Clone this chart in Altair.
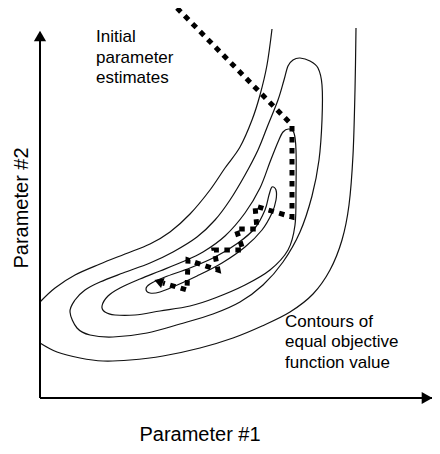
import altair as alt
import pandas as pd

# ---- contour lines (parameter-space units) ----
OUTER_UPPER_X = [0, 15, 35, 60, 85, 110, 130, 150, 170, 185, 200, 212, 220, 227, 232]
OUTER_UPPER_Y = [96, 110, 123, 134, 144, 154, 166, 184, 208, 230, 251, 278, 303, 333, 369]

OUTER_LOWER_X = [0, 17, 40, 63, 90, 123, 160, 193, 222, 250, 273, 290, 302, 309, 313, 315, 316]
OUTER_LOWER_Y = [55, 46, 40, 37, 38, 42, 50, 60, 72, 86, 104, 128, 158, 193, 243, 308, 370]

C2_X = [30, 35, 45, 60, 83, 110, 133, 157, 175, 190, 205, 218, 228, 238, 244, 248, 253, 260,
        270, 278, 282, 282, 279, 272, 260, 243, 223, 200, 173, 140, 107, 73, 50, 37]
C2_Y = [86, 98, 108, 116, 125, 135, 146, 161, 178, 198, 223, 248, 273, 298, 318, 332, 338, 340,
        337, 330, 313, 278, 238, 202, 166, 136, 113, 96, 84, 74, 65, 61, 63, 70]

C3_X = [62, 68, 80, 100, 120, 142, 163, 185, 205, 220, 230, 238, 243, 249, 254, 256, 256, 255,
        248, 230, 205, 175, 150, 120, 95, 75, 65]
C3_Y = [92, 102, 110, 119, 127, 136, 146, 162, 185, 210, 236, 256, 266, 269, 265, 248, 208, 173,
        148, 128, 113, 100, 92, 87, 83, 83, 86]

C4_X = [106, 110, 125, 150, 175, 198, 215, 225, 229, 232, 236, 236, 232, 222, 205, 182, 157, 135, 120, 110]
C4_Y = [109, 114, 121, 130, 141, 155, 170, 188, 203, 211, 208, 198, 185, 168, 151, 135, 122, 112, 106, 105]

# ---- search path ----
PATH_X = [137, 252, 252, 215, 217, 196, 203, 174, 178, 148, 147, 123]
PATH_Y = [390, 273, 181, 192, 169, 169, 148, 148, 128, 138, 108, 115]
ARROW_X = [120]
ARROW_Y = [116]

# ---- axes ----
AXIS_END_X = 392
AXIS_END_Y = 362
XARROW_X = 387

# ---- labels ----
NOTE_TEXT = ["Initial", "parameter", "estimates",
             "Contours of", "equal objective", "function value"]
NOTE_X = [56, 56, 56, 245, 245, 245]
NOTE_Y = [356, 335, 315, 71, 51, 30]

X_TITLE = "Parameter #1"
Y_TITLE = "Parameter #2"


def curve_df(name, xs, ys):
    return pd.DataFrame({"curve": name, "i": range(len(xs)), "x": xs, "y": ys})


open_df = pd.concat([curve_df("outer_upper", OUTER_UPPER_X, OUTER_UPPER_Y),
                     curve_df("outer_lower", OUTER_LOWER_X, OUTER_LOWER_Y)])
closed_df = pd.concat([curve_df("c2", C2_X, C2_Y),
                       curve_df("c3", C3_X, C3_Y),
                       curve_df("c4", C4_X, C4_Y)])
path_df = curve_df("path", PATH_X, PATH_Y)
arrow_df = pd.DataFrame({"x": ARROW_X, "y": ARROW_Y})
axes_df = pd.DataFrame({"x": [0, 0], "y": [0, 0], "x2": [0, AXIS_END_X], "y2": [AXIS_END_Y, 0]})
yarrow_df = pd.DataFrame({"x": [0], "y": [AXIS_END_Y]})
xarrow_df = pd.DataFrame({"x": [XARROW_X], "y": [0]})
notes_df = pd.DataFrame({"text": NOTE_TEXT, "x": NOTE_X, "y": NOTE_Y})
xt_df = pd.DataFrame({"text": [X_TITLE], "x": [160], "y": [-43]})
yt_df = pd.DataFrame({"text": [Y_TITLE], "x": [-12], "y": [190]})

xs = alt.Scale(domain=[-32, 392])
ys = alt.Scale(domain=[-48, 390])
X = alt.X("x:Q", scale=xs, axis=None)
Y = alt.Y("y:Q", scale=ys, axis=None)

contours_open = alt.Chart(open_df).mark_line(
    interpolate="cardinal", color="#111111", strokeWidth=1.2
).encode(x=X, y=Y, detail="curve:N", order="i:Q")

contours_closed = alt.Chart(closed_df).mark_line(
    interpolate="cardinal-closed", color="#111111", strokeWidth=1.2
).encode(x=X, y=Y, detail="curve:N", order="i:Q")

path = alt.Chart(path_df).mark_line(
    color="black", strokeWidth=5, strokeDash=[5.5, 5.5], strokeCap="butt"
).encode(x=X, y=Y, order="i:Q")

arrow = alt.Chart(arrow_df).mark_point(
    shape="triangle", filled=True, size=110, angle=290, color="black", opacity=1
).encode(x=X, y=Y)

axes = alt.Chart(axes_df).mark_rule(color="black", strokeWidth=2).encode(
    x=X, y=Y, x2="x2:Q", y2="y2:Q")

yarrow = alt.Chart(yarrow_df).mark_point(
    shape="triangle-up", filled=True, size=150, color="black", opacity=1
).encode(x=X, y=Y)
xarrow = alt.Chart(xarrow_df).mark_point(
    shape="triangle-right", filled=True, size=150, color="black", opacity=1
).encode(x=X, y=Y)

notes = alt.Chart(notes_df).mark_text(
    align="left", baseline="alphabetic", fontSize=17, font="Liberation Sans", color="black"
).encode(x=X, y=Y, text="text:N")

xtitle = alt.Chart(xt_df).mark_text(
    align="center", baseline="alphabetic", fontSize=20, font="Liberation Sans", color="black"
).encode(x=X, y=Y, text="text:N")

ytitle = alt.Chart(yt_df).mark_text(
    align="center", baseline="alphabetic", fontSize=20, font="Liberation Sans", color="black",
    angle=270
).encode(x=X, y=Y, text="text:N")

chart = alt.layer(
    contours_open, contours_closed, path, arrow, axes, yarrow, xarrow, notes, xtitle, ytitle
).properties(
    width=424, height=438, autosize=alt.AutoSizeParams(type="none"), padding=0
).configure_view(stroke=None)

chart.save("out.html", embed_options={"renderer": "svg", "actions": False})
